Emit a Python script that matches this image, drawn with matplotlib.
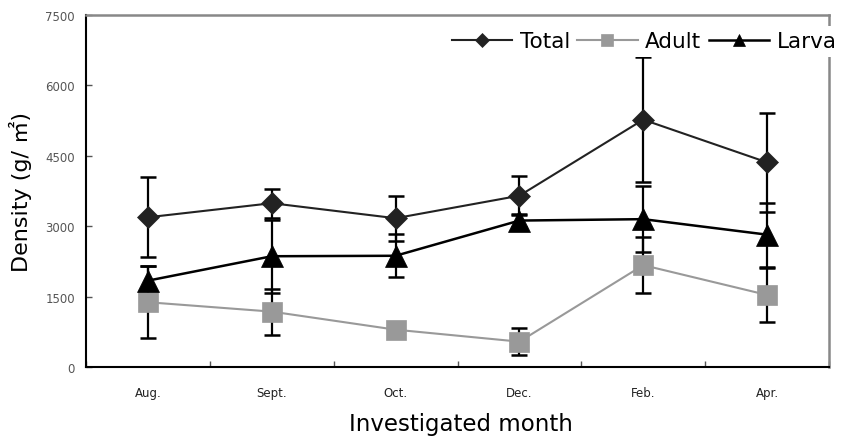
import matplotlib
matplotlib.use("Agg")
import matplotlib.pyplot as plt
import numpy as np

months = ["Aug.", "Sept.", "Oct.", "Dec.", "Feb.", "Apr."]
total = [3190, 3490, 3170, 3650, 5270, 4360]
total_err = [850, 305, 480, 410, 1330, 1050]
adult = [1380, 1180, 795, 540, 2170, 1535]
adult_err = [770, 490, 0, 290, 600, 570]
larva = [1840, 2360, 2370, 3120, 3150, 2820]
larva_err = [305, 780, 460, 140, 710, 680]

plt.rcParams['font.family'] = ['DejaVu Sans', 'Noto Sans CJK KR']

fig = plt.figure(figsize=(8.43, 4.39), dpi=100)
ax = fig.add_axes([86/843, 1-368/439, (829-86)/843, (368-16)/439])

x = np.arange(len(months)) + 0.5

# error bars
for vals, errs in [(total, total_err), (adult, adult_err), (larva, larva_err)]:
    ax.errorbar(x, vals, yerr=errs, fmt='none', ecolor='black', elinewidth=1.6,
                capsize=5.8, capthick=1.8, zorder=2)

ax.plot(x, total, color='#222222', lw=1.5, marker='D', ms=11.5, mfc='#222222',
        mec='#222222', mew=0.5, label='Total', zorder=3)
ax.plot(x, adult, color='#999999', lw=1.5, marker='s', ms=15, mfc='#999999',
        mec='#999999', mew=0.5, label='Adult', zorder=3)
ax.plot(x, larva, color='black', lw=1.8, marker='^', ms=15.5, mfc='black',
        mec='black', mew=0.5, label='Larva', zorder=3)

ax.set_xlim(0, len(months))
ax.set_ylim(0, 7500)
ax.set_yticks([0, 1500, 3000, 4500, 6000, 7500])
ax.set_xticks(x)
ax.set_xticklabels(months)
ax.set_xticks(np.arange(len(months) + 1), minor=True)
ax.tick_params(axis='x', which='major', length=0, pad=14, labelsize=8.5, labelcolor='#222222')
ax.tick_params(axis='x', which='minor', direction='in', length=4, width=1, color='#555555')
ax.tick_params(axis='y', direction='in', length=4, width=1, pad=8, labelsize=8.5,
               labelcolor='#555555', color='#555555')

for s in ['left', 'bottom']:
    ax.spines[s].set_color('black')
    ax.spines[s].set_linewidth(1.5)
for s in ['top', 'right']:
    ax.spines[s].set_color('#888888')
    ax.spines[s].set_linewidth(1.8)

ax.set_ylabel('Density (g/ ㎡)', fontsize=16)
ax.yaxis.set_label_coords(-0.073, 0.5)
ax.set_xlabel('Investigated month', fontsize=16.5)
ax.xaxis.set_label_coords(0.505, -0.128)

leg = ax.legend(loc='upper right', bbox_to_anchor=(842/843, 1-27/439),
                bbox_transform=fig.transFigure, ncol=3, fontsize=15.5,
                frameon=True, edgecolor='none', facecolor='white', framealpha=1,
                fancybox=False, markerscale=0.6, handlelength=2.8,
                handletextpad=0.35, columnspacing=0.35, borderpad=0.25,
                borderaxespad=0)

fig.savefig('out.png', dpi=100)
